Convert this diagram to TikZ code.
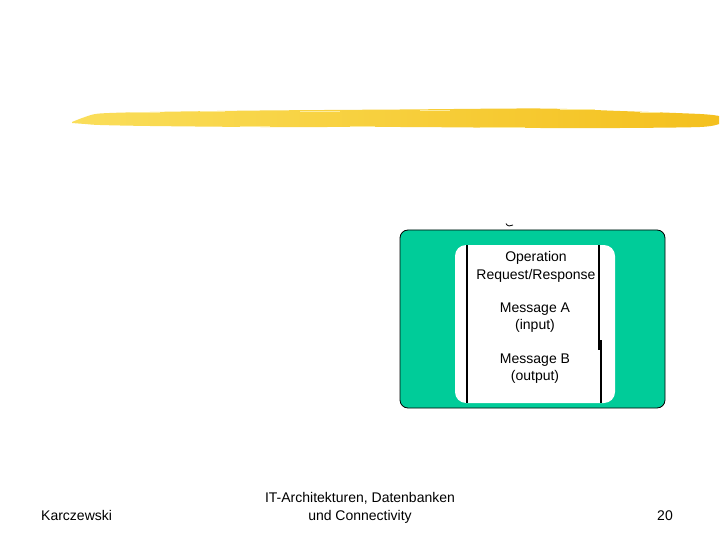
\documentclass[tikz,border=0pt]{standalone}
\usepackage{fontspec}
\setmainfont{Liberation Sans}
\usetikzlibrary{calc}
\definecolor{boxgreen}{RGB}{0,204,153}
\definecolor{yelA}{RGB}{250,222,90}
\definecolor{yelB}{RGB}{247,205,55}
\definecolor{yelC}{RGB}{244,192,30}
\tikzset{
  lbl/.style={font=\fontsize{14}{17.5}\selectfont, align=center, inner sep=0pt, text=black},
  ftr/.style={font=\fontsize{14}{18}\selectfont, align=center, inner sep=0pt, text=black},
  bar/.style={line width=2pt, black},
}
\begin{document}
\begin{tikzpicture}[x=1pt,y=-1pt]
\useasboundingbox (0,0) rectangle (720,540);
\fill[white] (0,0) rectangle (720,540);
% yellow brush stroke
\shade[left color=yelA, middle color=yelB, right color=yelC]
  plot[smooth] coordinates {(72,122) (85,117) (100,113.5) (150,112) (260,110.5) (400,109.5) (540,108.5) (620,111) (700,114) (719,116)}
  -- plot[smooth] coordinates {(719,124) (700,127) (620,128) (540,128) (400,127) (260,127) (150,126) (100,125) (85,124) (72,123)}
  -- cycle;
\foreach \xa/\ya/\len in {130/112.5/30, 200/111.5/25, 300/111/40, 420/110.5/30, 480/127/45, 560/109.5/35, 640/112/20, 240/126/30, 350/126.5/25}{
  \draw[yelA!60!white, line width=0.8pt] (\xa,\ya) -- ++(\len,0);
}
% outer green box
\node[draw=black, line width=0.8pt, fill=boxgreen, rounded corners=8pt, minimum width=265pt, minimum height=178pt, inner sep=0pt] (outer) at (532.5,319) {};
% inner white box
\node[fill=white, rounded corners=11pt, minimum width=160pt, minimum height=158pt, inner sep=0pt] (inner) at (535,324) {};
% vertical bars
\coordinate (lt) at (467,245);
\coordinate (lb) at (467,403);
\coordinate (rt) at (598.5,245);
\coordinate (rm) at (598.5,350);
\coordinate (rm2) at (600.5,340);
\coordinate (rb) at (600.5,403);
\draw[bar] (lt) -- (lb);
\draw[bar] (rt) -- (rm);
\draw[bar] (rm2) -- (rb);
% tiny residual mark above box
\coordinate (ma) at (506,223.5);
\coordinate (mb) at (513,225);
\draw[black, line width=0.8pt] (ma) .. controls (507,226.5) and (511,226.5) .. (mb);
% texts
\node[lbl] (op) at (536,267) {Operation\\Request/Response};
\node[lbl] (ma1) at (535,317.5) {Message A\\(input)};
\node[lbl] (mb1) at (535,368.5) {Message B\\(output)};
% footer
\node[ftr, anchor=west] (auth) at (41,515.5) {Karczewski};
\node[ftr] (title) at (360,507.5) {IT-Architekturen, Datenbanken\\und Connectivity};
\node[ftr] (page) at (665,515.5) {20};
\end{tikzpicture}
\end{document}
